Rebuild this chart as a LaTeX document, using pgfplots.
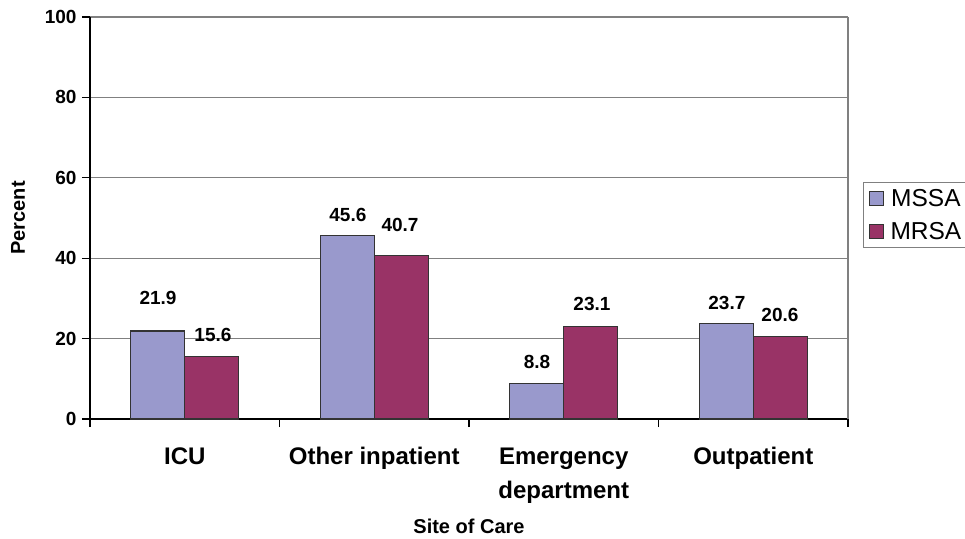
\documentclass[border=0pt]{standalone}
\usepackage{fontspec}
\setmainfont{Liberation Sans}
\usepackage{pgfplots}
\pgfplotsset{compat=1.18}
\definecolor{mssa}{HTML}{9999CC}
\definecolor{mrsa}{HTML}{993366}
\definecolor{gridc}{HTML}{808080}
\begin{document}
\begin{tikzpicture}
\useasboundingbox (-90bp,-120bp) rectangle (875bp,419bp);
\begin{axis}[
  scale only axis,
  width=758bp, height=402bp,
  anchor=south west, at={(0,0)},
  xmin=-0.5, xmax=3.5, ymin=0, ymax=100,
  axis lines=left,
  axis line style={black, line width=1.2bp, -},
  ytick={0,20,...,100},
  ymajorgrids, grid style={gridc, line width=1.2bp},
  xtick={0,1,2,3},
  xticklabels={ICU,Other inpatient,{Emergency\\department},Outpatient},
  major x tick style={draw=none},
  minor xtick={-0.5,0.5,1.5,2.5,3.5},
  minor x tick style={black, line width=1.2bp},
  minor tick length=8bp,
  major tick length=8bp,
  tick align=outside,
  y tick style={black, line width=1.2bp},
  /pgf/number format/assume math mode=true,
  yticklabel style={font=\fontsize{19bp}{20bp}\selectfont\bfseries, xshift=-2bp},
  xticklabel style={font=\fontsize{24bp}{34bp}\selectfont\bfseries, align=center, yshift=-17bp},
  ylabel={Percent},
  ylabel style={font=\fontsize{20bp}{22bp}\selectfont\bfseries, at={(rel axis cs:-0.095,0.5)}, anchor=center},
  xlabel={Site of Care},
  xlabel style={font=\fontsize{20bp}{22bp}\selectfont\bfseries, at={(rel axis cs:0.5,0)}, yshift=-107bp, anchor=center},
  ybar=0pt, bar width=54bp,
  legend style={at={(rel axis cs:1.0198,0.5896)}, anchor=north west, draw=gridc, line width=1bp,
    font=\fontsize{24.5bp}{28bp}\selectfont, row sep=10bp, inner xsep=2bp, inner ysep=5bp},
  legend image code/.code={\draw[#1, line width=1bp] (4bp,-7bp) rectangle (18bp,7bp); \path[draw=none,fill=none] (0bp,0bp) -- (23bp,0bp);},
  clip=false,
]
\addplot[fill=mssa, draw=black!80, line width=1.2bp] coordinates {(0,21.9) (1,45.6) (2,8.8) (3,23.7)};
\addplot[fill=mrsa, draw=black!80, line width=1.2bp] coordinates {(0,15.6) (1,40.7) (2,23.1) (3,20.6)};
\legend{MSSA,MRSA}
\draw[gridc, line width=1.2bp] (rel axis cs:1,0) -- (rel axis cs:1,1);
\begin{scope}[every node/.style={font=\fontsize{19bp}{21bp}\selectfont\bfseries}]
\node at (axis cs:-0.141,30.1) {21.9};
\node at (axis cs:0.149,20.9) {15.6};
\node at (axis cs:0.861,50.7) {45.6};
\node at (axis cs:1.136,48.3) {40.7};
\node at (axis cs:1.859,14.2) {8.8};
\node at (axis cs:2.149,28.6) {23.1};
\node at (axis cs:2.861,28.9) {23.7};
\node at (axis cs:3.141,25.9) {20.6};
\end{scope}
\end{axis}
\end{tikzpicture}
\end{document}
